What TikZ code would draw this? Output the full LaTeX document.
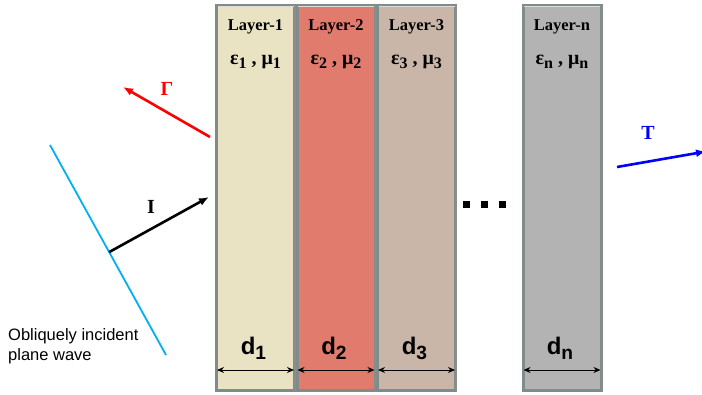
\documentclass[tikz,border=0pt]{standalone}
\usepackage{fontspec}
\setmainfont{Liberation Serif}
\setsansfont{Liberation Sans}
\usetikzlibrary{arrows.meta,positioning,calc}

\definecolor{layerA}{RGB}{233,227,196}
\definecolor{layerB}{RGB}{225,123,110}
\definecolor{layerC}{RGB}{201,182,169}
\definecolor{layerN}{RGB}{179,179,179}
\definecolor{bevel}{RGB}{128,140,138}
\definecolor{wavecyan}{RGB}{0,176,240}

\newcommand{\lsub}[1]{\raisebox{-0.4ex}{\scalebox{0.8}{#1}}}

\tikzset{
  layer/.style={draw=bevel,line width=3pt,minimum width=78pt,minimum height=385pt,inner sep=0pt},
  laytitle/.style={font=\fontsize{16.5}{17}\selectfont\bfseries,inner sep=0pt},
  laymat/.style={font=\fontsize{20}{21}\selectfont\bfseries,inner sep=0pt},
  laythick/.style={font=\fontsize{24}{25}\selectfont\sffamily\bfseries,inner sep=0pt},
  dimline/.style={{Stealth[length=7pt,width=6pt]}-{Stealth[length=7pt,width=6pt]},line width=1pt},
  wavearrow/.style={-{Latex[length=10pt,width=8pt]},line width=2.6pt},
  wavelab/.style={font=\fontsize{20}{21}\selectfont\bfseries,inner sep=0pt}
}

\begin{document}
\begin{tikzpicture}[x=1pt,y=-1pt,>=Latex]
\useasboundingbox (0,0) rectangle (702,394);

% layers
\node[layer,fill=layerA] (L1) at (255.5,198) {};
\node[layer,fill=layerB] (L2) at (336,198) {};
\node[layer,fill=layerC] (L3) at (416.5,198) {};
\node[layer,fill=layerN] (Ln) at (562,198) {};
\foreach \l in {L1,L2,L3,Ln} {
  \draw[white,opacity=.7,line width=1.2pt] ($(\l.north west)+(2.5,2.5)$) -- ($(\l.north east)+(-2.5,2.5)$);
  \draw[black!45,line width=1.2pt] ($(\l.north east)+(-1,1)$) -- ($(\l.south east)+(-1,-1)$);
}

\node[laytitle] (t1) at ($(L1.north)+(0,23)$) {Layer-1};
\node[laytitle] (t2) at ($(L2.north)+(0,23)$) {Layer-2};
\node[laytitle] (t3) at ($(L3.north)+(0,23)$) {Layer-3};
\node[laytitle] (tn) at ($(Ln.north)+(0,23)$) {Layer-n};

\node[laymat] (m1) at ($(L1.north)+(0,58)$) {ε\lsub{1} , μ\lsub{1}};
\node[laymat] (m2) at ($(L2.north)+(0,58)$) {ε\lsub{2} , μ\lsub{2}};
\node[laymat] (m3) at ($(L3.north)+(0,58)$) {ε\lsub{3} , μ\lsub{3}};
\node[laymat] (mn) at ($(Ln.north)+(0,58)$) {ε\lsub{n} , μ\lsub{n}};

% thicknesses
\node[laythick] (d1) at ($(L1.south)+(-2,-44)$) {d\lsub{1}};
\node[laythick] (d2) at ($(L2.south)+(-2,-44)$) {d\lsub{2}};
\node[laythick] (d3) at ($(L3.south)+(-2,-44)$) {d\lsub{3}};
\node[laythick] (dn) at ($(Ln.south)+(-2,-44)$) {d\lsub{n}};
\foreach \l in {L1,L2,L3,Ln}
  \draw[dimline] ($(\l.south west)+(2,-22)$) -- ($(\l.south east)+(-2,-22)$);

% dots
\foreach \x [count=\i] in {466,484,502}
  \fill (\x-3.5,200.5) rectangle (\x+3.5,207.5);

% incident wave
\coordinate (wtop) at (50,145);
\coordinate (wbot) at (166,355);
\coordinate (iend) at (209,197);
\draw[wavecyan,line width=1.8pt] (wtop) -- (wbot);
\coordinate (ifoot) at ($(wtop)!0.51!(wbot)$);
\draw[wavearrow] (ifoot) -- (iend);
\node[wavelab] (I) at (151,207) {I};

\node[font=\fontsize{16.5}{20.5}\selectfont\sffamily,align=left,anchor=north west,inner sep=0pt] (obl) at (8,328) {Obliquely incident\\plane wave};

% reflected wave
\coordinate (gstart) at (210,137);
\coordinate (gend) at (123,87);
\draw[wavearrow,red] (gstart) -- (gend);
\node[wavelab,red] (G) at (167,89) {Γ};

% transmitted wave
\coordinate (tstart) at (617,167);
\coordinate (tend) at (706,151.5);
\draw[wavearrow,blue] (tstart) -- (tend);
\node[wavelab,blue] (T) at (648,133) {T};
\end{tikzpicture}
\end{document}
